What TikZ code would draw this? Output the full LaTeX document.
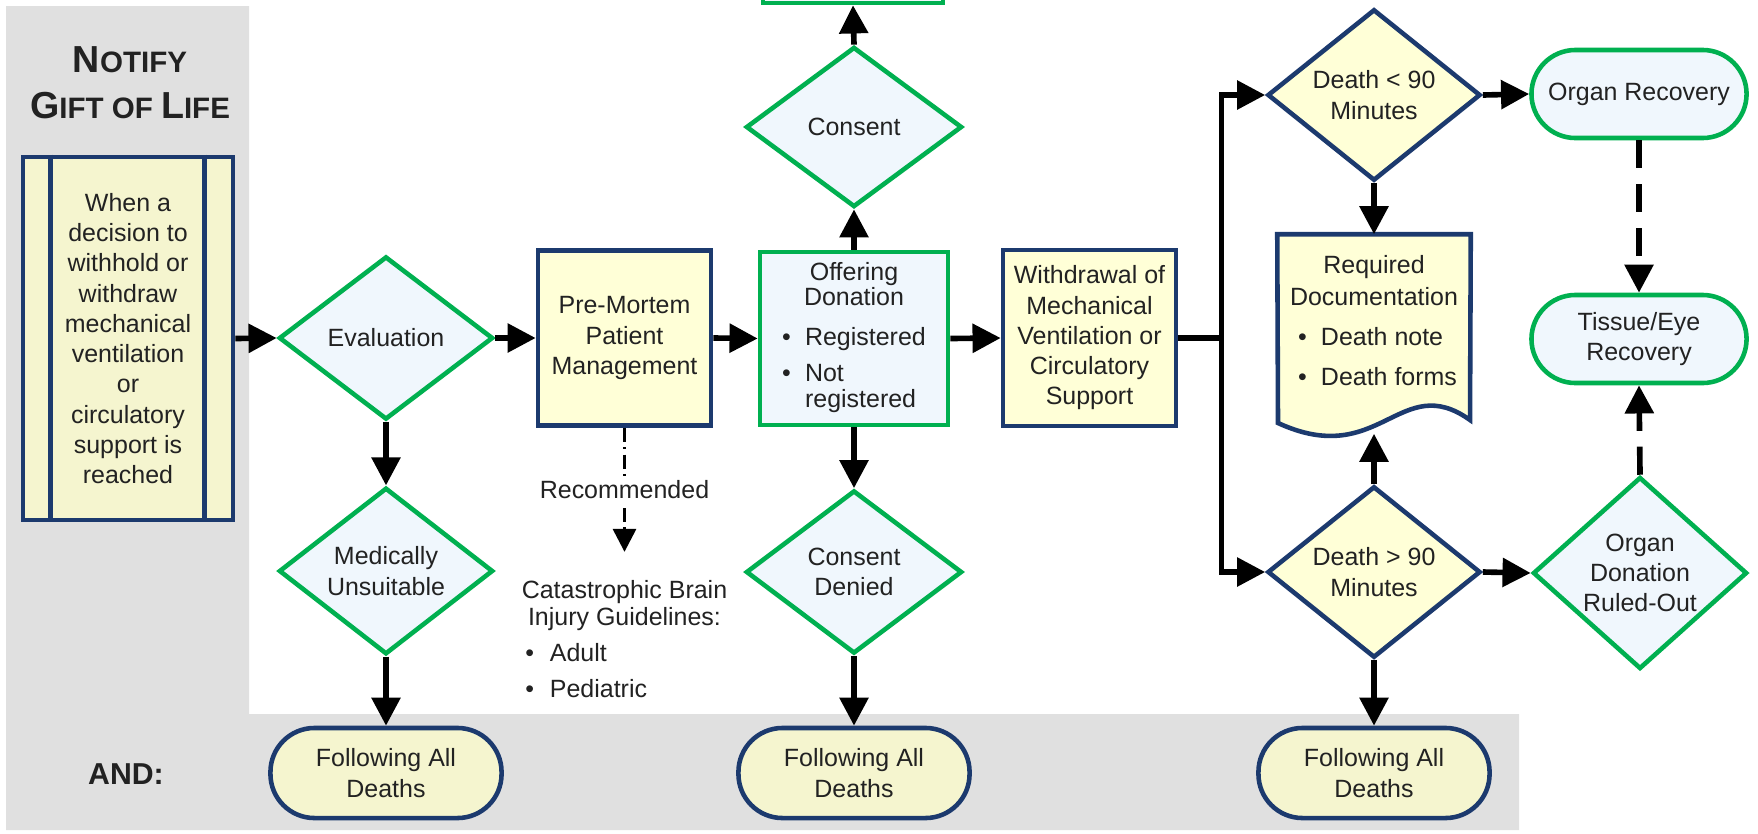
\documentclass[tikz,border=0pt]{standalone}
\usepackage{fontspec}
\setmainfont{Liberation Sans}
\usetikzlibrary{shapes.geometric,arrows.meta}

\definecolor{navy}{RGB}{28,58,110}
\definecolor{grn}{RGB}{0,176,80}
\definecolor{paleblue}{RGB}{240,247,253}
\definecolor{creamA}{RGB}{245,245,207}
\definecolor{creamB}{RGB}{255,255,215}
\definecolor{panel}{RGB}{224,224,224}
\definecolor{ink}{RGB}{34,34,34}

\newcommand{\blt}{\makebox[6.5pt][l]{\textbullet}}
\newcommand{\capbig}[1]{{\fontsize{10.7}{13}\selectfont #1}}
\newcommand{\capsml}[1]{{\fontsize{8.4}{13}\selectfont #1}}

\begin{document}
\begin{tikzpicture}[x=0.01cm,y=-0.01cm,
  every node/.style={font=\fontsize{7.1}{8.6}\selectfont, text=ink, align=center, inner sep=0pt},
  navybox/.style={rectangle, draw=navy, line width=1.3pt, fill=creamB},
  greenbox/.style={rectangle, draw=grn, line width=1.3pt, fill=paleblue},
  decide/.style={diamond, minimum width=2.14cm, minimum height=1.63cm, line width=1.3pt},
  greendec/.style={decide, draw=grn, fill=paleblue},
  navydec/.style={decide, draw=navy, fill=creamB},
  term/.style={rectangle, rounded corners=0.44cm, line width=1.3pt},
  navyterm/.style={term, draw=navy, fill=creamA, minimum width=2.31cm, minimum height=0.9cm},
  greenterm/.style={term, draw=grn, fill=paleblue, minimum width=2.15cm, minimum height=0.88cm},
  flow/.style={line width=1.6pt, -{Triangle[length=8pt,width=8pt]}},
  dashflow/.style={flow, dash pattern=on 8pt off 4.5pt},
  hintflow/.style={line width=0.9pt, dash pattern=on 4pt off 1.5pt on 0.6pt off 1.5pt,
                   -{Triangle[length=6.5pt,width=6.5pt]}},
]
\clip (0,0) rectangle (1758,833);
\fill[white] (0,0) rectangle (1758,833);
% grey swimlanes: left column and bottom row
\fill[panel] (6,6) -- (249,6) -- (249,714) -- (1519,714) -- (1519,830) -- (6,830) -- cycle;

% headings
\node[font=\bfseries\fontsize{10.7}{13}\selectfont] (title) at (130,83)
  {\capbig{N}\capsml{OTIFY}\\\capbig{G}\capsml{IFT OF }\capbig{L}\capsml{IFE}};
\node[font=\bfseries\fontsize{8.6}{10}\selectfont] (andlbl) at (126,774) {AND:};

% trigger (predefined process)
\node[navybox, fill=creamA, minimum width=2.10cm, minimum height=3.63cm] (trigger) at (128,338.5)
  {When a\\decision to\\withhold or\\withdraw\\mechanical\\ventilation\\or\\circulatory\\support is\\reached};
\draw[navy, line width=1.3pt] ([xshift=0.30cm]trigger.north west) -- ([xshift=0.30cm]trigger.south west);
\draw[navy, line width=1.3pt] ([xshift=-0.31cm]trigger.north east) -- ([xshift=-0.31cm]trigger.south east);

% evaluation column
\node[greendec] (eval) at (386,338) {Evaluation};
\node[greendec] (unsuit) at (386,571) {Medically\\Unsuitable};
\node[navyterm] (fad1) at (386,773) {Following All\\Deaths};

% pre-mortem column
\node[navybox, minimum width=1.73cm, minimum height=1.75cm] (pm) at (624.5,338) {Pre-Mortem\\Patient\\Management};
\node (cbi) at (624.5,642.5) {\renewcommand{\arraystretch}{0.9}%
  \begin{tabular}{@{}l@{}}
  \multicolumn{1}{@{}c@{}}{Catastrophic Brain}\\
  \multicolumn{1}{@{}c@{}}{Injury Guidelines:}\\[2.5pt]
  \hspace*{1pt}\makebox[7pt][l]{\textbullet}Adult\\[2.3pt]
  \hspace*{1pt}\makebox[7pt][l]{\textbullet}Pediatric
  \end{tabular}};

% donation column
\node[greenbox, minimum width=1.88cm, minimum height=1.73cm] (offer) at (854,338.5) {\renewcommand{\arraystretch}{0.83}%
  \begin{tabular}{@{}l@{}}
  \multicolumn{1}{@{}c@{}}{Offering}\\
  \multicolumn{1}{@{}c@{}}{Donation}\\[4pt]
  \blt Registered\\[3.1pt]
  \blt Not\\
  \hspace*{6.5pt}registered
  \end{tabular}};
\node[greendec, minimum width=2.16cm, minimum height=1.60cm] (consent) at (854,127) {Consent};
\node[greenbox, minimum width=1.80cm, minimum height=0.60cm] (topbox) at (853,-27) {};
\node[greendec, minimum width=2.16cm] (denied) at (854,572) {Consent\\Denied};
\node[navyterm] (fad2) at (854,773) {Following All\\Deaths};

% withdrawal
\node[navybox, minimum width=1.73cm, minimum height=1.76cm] (wd) at (1089.5,338)
  {Withdrawal of\\Mechanical\\Ventilation or\\Circulatory\\Support};

% outcome column
\node[navydec, minimum width=2.13cm] (early) at (1374,95) {Death < 90\\Minutes};
\node[navydec, minimum width=2.13cm] (late) at (1374,572) {Death > 90\\Minutes};
\node[navyterm] (fad3) at (1374,773) {Following All\\Deaths};
\node[minimum width=1.92cm, minimum height=1.98cm] (rd) at (1374,334) {};
\filldraw[draw=navy, fill=creamB, line width=1.3pt]
  (rd.north west) -- (rd.north east) -- (1470,420)
  .. controls (1400,370) and (1380,470) .. (1278,423) -- cycle;
\node (rdtext) at (1374,323.5) {\renewcommand{\arraystretch}{1.05}%
  \begin{tabular}{@{}l@{}}
  \multicolumn{1}{@{}c@{}}{Required}\\
  \multicolumn{1}{@{}c@{}}{Documentation}\\[2.4pt]
  \hspace*{2.3pt}\blt Death note\\[2.4pt]
  \hspace*{2.3pt}\blt Death forms
  \end{tabular}};

% recovery column
\node[greenterm] (orgrec) at (1639,94) {Organ Recovery};
\node[greenterm] (tissue) at (1639,339) {Tissue/Eye\\Recovery};
\node[greendec] (ruled) at (1640,573) {Organ\\Donation\\Ruled-Out};

% connectors
\draw[flow] (trigger.east) -- (eval.west);
\draw[flow] (eval.east) -- (pm.west);
\draw[flow] (eval.south) -- (unsuit.north);
\draw[flow] (unsuit.south) -- (fad1.north);
\draw[flow] (pm.east) -- (offer.west);
\draw[flow] (offer.north) -- (consent.south);
\draw[flow] (consent.north) -- (topbox.south);
\draw[flow] (offer.south) -- (denied.north);
\draw[flow] (denied.south) -- (fad2.north);
\draw[flow] (offer.east) -- (wd.west);
\draw[flow] (wd.east) -- ++(43,0) |- (early.west);
\draw[flow] (wd.east) -- ++(43,0) |- (late.west);
\draw[flow] (early.east) -- (orgrec.west);
\draw[flow] (early.south) -- (rd.north);
\draw[flow] (late.north) -- (rd.south);
\draw[flow] (late.south) -- (fad3.north);
\draw[flow] (late.east) -- (ruled.west);
\draw[dashflow] (orgrec.south) -- (tissue.north);
\draw[dashflow] (ruled.north) -- (tissue.south);
\draw[hintflow, shorten >=7.7pt] (pm.south) -- (cbi.north);
\node[fill=white, inner sep=1.5pt] (rec) at (624.5,490) {Recommended};

\end{tikzpicture}
\end{document}
